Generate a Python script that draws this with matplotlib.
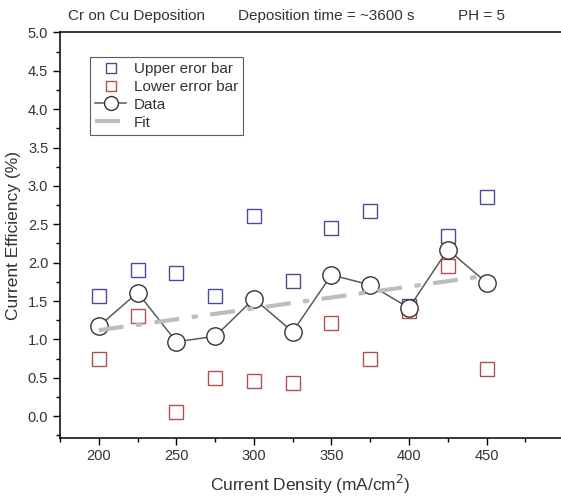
import matplotlib
matplotlib.use("Agg")
import matplotlib.pyplot as plt
from matplotlib.ticker import MultipleLocator

plt.rcParams['font.family'] = ['Liberation Sans', 'DejaVu Sans']

current_density = [200, 225, 250, 275, 300, 325, 350, 375, 400, 425, 450]
data_eff = [1.17, 1.61, 0.97, 1.04, 1.53, 1.10, 1.84, 1.71, 1.41, 2.17, 1.74]
upper_err = [1.56, 1.91, 1.87, 1.56, 2.61, 1.76, 2.45, 2.67, 1.43, 2.35, 2.86]
lower_err = [0.75, 1.31, 0.06, 0.50, 0.46, 0.43, 1.22, 0.74, 1.37, 1.96, 0.62]
fit_x = [200, 450]
fit_y = [1.12, 1.83]

fig = plt.figure(figsize=(5.61, 4.99), dpi=100)
ax = fig.add_axes([0.107, 0.123, 0.893, 0.812])

ax.plot(current_density, upper_err, linestyle='none', marker='s', markersize=9.5,
        markerfacecolor='none', markeredgecolor='#4b4b9c', markeredgewidth=1.0,
        label='Upper eror bar')
ax.plot(current_density, lower_err, linestyle='none', marker='s', markersize=9.5,
        markerfacecolor='none', markeredgecolor='#b24f4f', markeredgewidth=1.0,
        label='Lower error bar')
ax.plot(current_density, data_eff, color='#5a5a5a', linewidth=1.1, marker='o',
        markersize=12.5, markerfacecolor='white', markeredgecolor='#333333',
        markeredgewidth=1.0, label='Data', zorder=3)
ax.plot(fit_x, fit_y, color='#bdbdbd', linewidth=3, linestyle=(0, (6, 3, 1.5, 3)),
        label='Fit', zorder=4)

ax.set_xlim(175, 498)
ax.set_ylim(-0.28, 5.0)
ax.xaxis.set_major_locator(MultipleLocator(50))
ax.xaxis.set_minor_locator(MultipleLocator(25))
ax.yaxis.set_major_locator(MultipleLocator(0.5))
ax.yaxis.set_minor_locator(MultipleLocator(0.25))
ax.yaxis.set_major_formatter(matplotlib.ticker.FormatStrFormatter('%.1f'))
ax.tick_params(which='major', direction='out', length=5, width=1, labelsize=10.5, colors='black')
ax.tick_params(which='minor', direction='out', length=3, width=1)
ax.tick_params(axis='both', labelcolor='#333333')
ax.spines['right'].set_visible(False)
for s in ['left', 'bottom', 'top']:
    ax.spines[s].set_linewidth(1.1)

ax.set_xlabel('Current Density (mA/cm$^2$)', fontsize=12.5, color='#333333', labelpad=7)
ax.set_ylabel('Current Efficiency (%)', fontsize=12.5, color='#333333', labelpad=5)

fig.text(137/561, 1 - 16/499, 'Cr on Cu Deposition', ha='center', va='center', fontsize=11, color='#333333')
fig.text(326/561, 1 - 16/499, 'Deposition time = ~3600 s', ha='center', va='center', fontsize=11, color='#333333')
fig.text(482/561, 1 - 16/499, 'PH = 5', ha='center', va='center', fontsize=11, color='#333333')

leg = ax.legend(loc='upper left', bbox_to_anchor=(0.06, 0.94), borderaxespad=0,
                fontsize=11, frameon=True, fancybox=False, handlelength=2.0,
                handletextpad=0.5, labelspacing=0.25, borderpad=0.35, markerscale=0.8)
leg.get_frame().set_edgecolor('#333333')
leg.get_frame().set_linewidth(0.8)
for t in leg.get_texts():
    t.set_color('#333333')

fig.savefig('out.png', dpi=100)
